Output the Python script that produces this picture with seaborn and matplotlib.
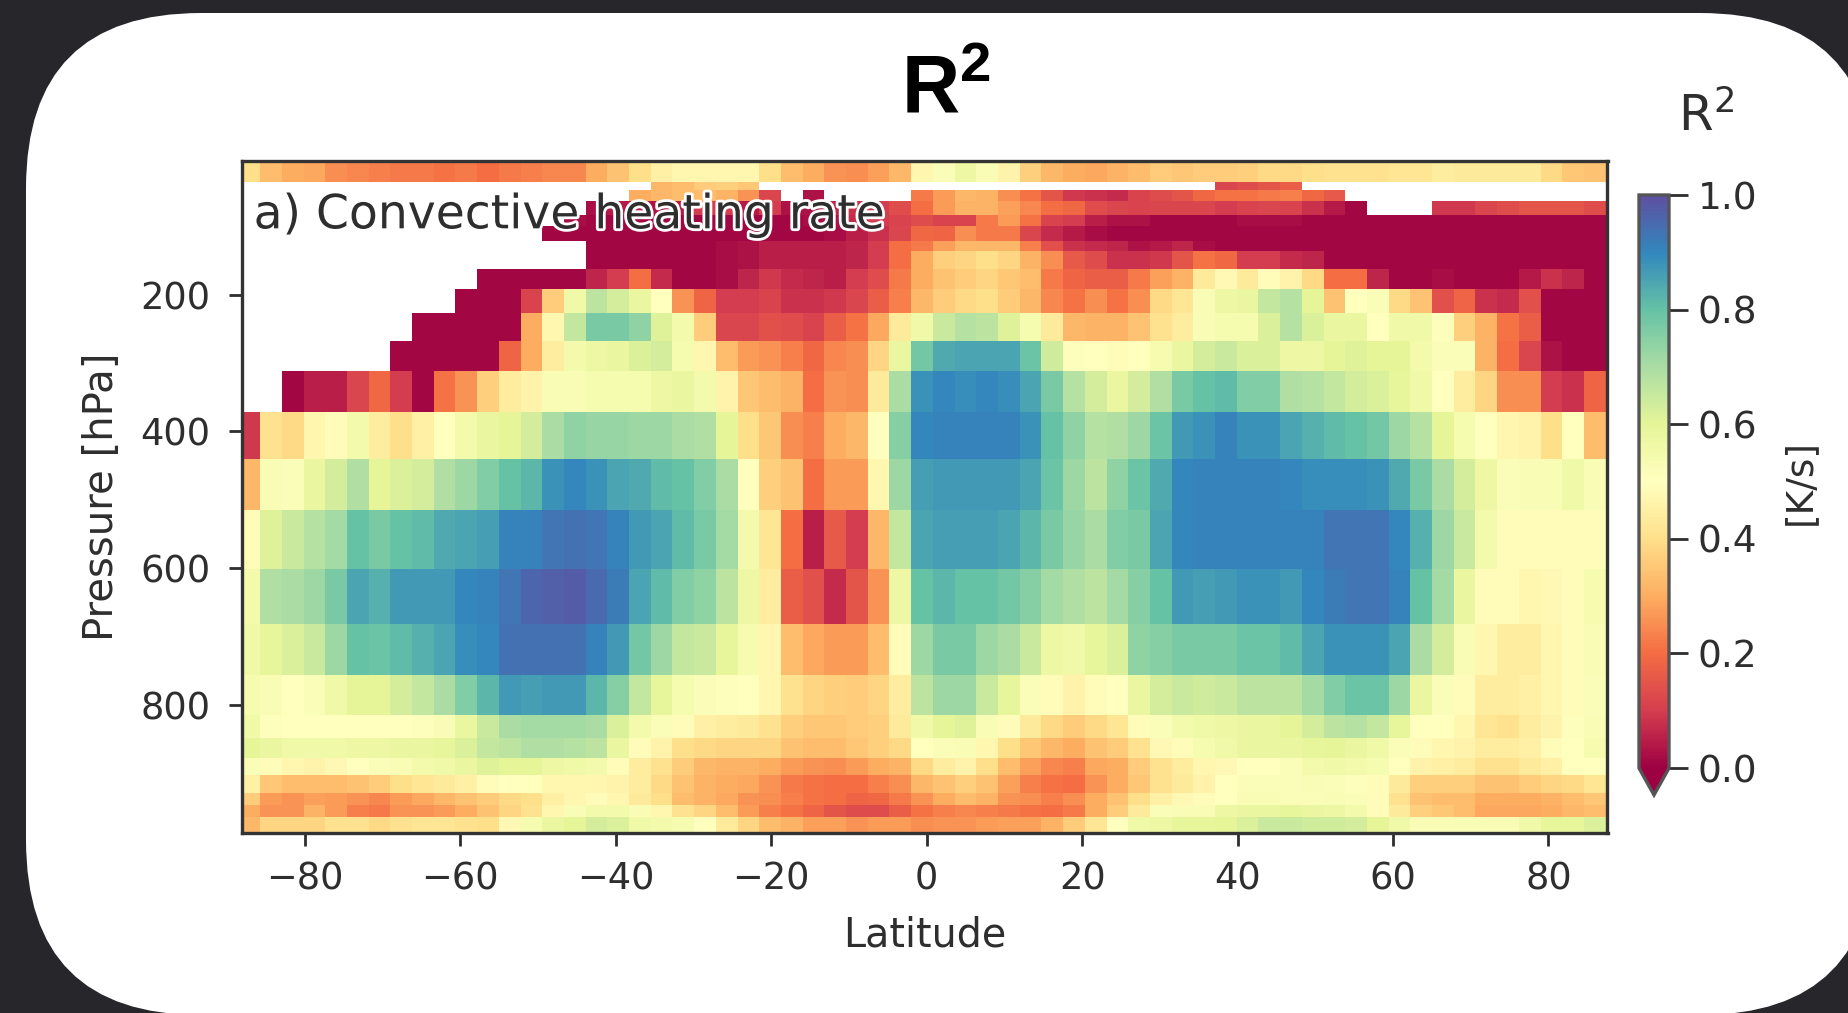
import numpy as np
import pandas as pd
import seaborn as sns
import matplotlib.pyplot as plt
import matplotlib.patheffects as pe
from matplotlib.patches import FancyBboxPatch
from matplotlib.transforms import IdentityTransform

nan = np.nan

# cell edges of the grid
lat_edges = [-88.1, -85.77, -82.98, -80.18, -77.39, -74.60, -71.81, -69.01, -66.22, -63.43, -60.64,
             -57.84, -55.05, -52.26, -49.47, -46.67, -43.88, -41.09, -38.30, -35.50, -32.71, -29.92,
             -27.13, -24.33, -21.54, -18.75, -15.96, -13.16, -10.37, -7.58, -4.79, -1.99, 0.80, 3.59,
             6.38, 9.18, 11.97, 14.76, 17.55, 20.35, 23.14, 25.93, 28.72, 31.52, 34.31, 37.10, 39.89,
             42.69, 45.48, 48.27, 51.06, 53.86, 56.65, 59.44, 62.23, 65.03, 67.82, 70.61, 73.40, 76.20,
             78.99, 81.78, 84.57, 87.6]
pressure_edges = [3.5, 35, 46, 62.5, 83, 99, 121, 136, 162.5, 192, 227, 267, 312, 371, 440, 515, 601,
                  682, 757, 815, 849, 878, 903, 929, 947, 964, 988]

# R2 per pressure row (nan = no data, white)
row_00 = [.40,.33,.30,.29,.25,.24,.23,.22,.22,.21,.22,.20,.22,.23,.24,.24,.30,.34,.40,.45,.47,.47,.47,.47,.40,.33,.30,.26,.25,.28,.32,
          .47,.52,.57,.53,.46,.37,.32,.30,.29,.31,.33,.36,.35,.36,.36,.37,.39,.39,.40,.41,.41,.41,.42,.42,.44,.43,.43,.43,.43,.39,.35,.34]
row_01 = [nan]*19 + [.32,.33,.36,.37,.35] + [nan]*21 + [.12,.13,.15,.17] + [nan]*14
row_02 = [nan]*18 + [.30,.32,.33,.33,.31,.26,.12] + [nan] + [.03] + [nan]*4 + \
         [.22,.27,.32,.31,.25,.21,.15,.09,.08,.07,.11,.13,.15,.19,.21,.21,.22,.23,.19,.16] + [nan]*12
row_03 = [nan]*16 + [.02,.04,.04,.03,.04,.10,.10,.04,.10,.03,.03,.06,.08,.10,.13] + \
         [.20,.27,.31,.31,.28,.24,.20,.19,.13,.12,.11,.12,.12,.12,.10,.11,.12,.11,.08,.04,.01] + [nan]*3 + \
         [.09,.09,.12,.13,.15,.15,.15,.13]
row_04 = [nan]*15 + [.02,.01,.01,.01,.01,.01,.01,.01,.01,.01,.01,.02,.03,.07,.10,.11] + \
         [.13,.11,.11,.22,.27,.21,.11,.10,.05,.03,.03,.01,.01,.01,.01,.02,.02,.02,.01,.01,.01,.01,.01,.01,.01,.01,.01,.01,.01,.01,.01,.01]
row_05 = [nan]*14 + [.01,.01,.01,.01,.01,.01,.01,.01,.01,.01,.01,.01,.01,.02,.05,.08,.12] + \
         [.19,.18,.25,.22,.22,.12,.07,.04,.02,.01,.01,.01,.01,.01,.01,.01,.01,.01,.01,.01,.01,.01,.01,.01,.01,.01,.01,.01,.01,.01,.01,.01]
row_06 = [nan]*16 + [.01,.01,.01,.01,.01,.01,.02,.03,.05,.05,.05,.05,.06,.10,.20] + \
         [.22,.28,.32,.32,.32,.23,.14,.08,.07,.06,.03,.04,.06,.02,.01,.01,.01,.01,.01,.01,.01,.01,.01,.01,.01,.01,.01,.01,.01,.01,.01,.01]
row_07 = [nan]*16 + [.01,.01,.01,.01,.01,.01,.02,.03,.05,.05,.05,.05,.06,.10,.20] + \
         [.30,.37,.38,.40,.38,.31,.25,.16,.13,.08,.08,.09,.15,.21,.19,.10,.10,.07,.06,.01,.01,.01,.01,.01,.01,.01,.01,.01,.01,.01,.01,.01]
row_08 = [nan]*11 + [.01,.01,.01,.01,.01,.06,.10,.20,.07,.01,.01,.02,.06,.09,.07,.06,.05,.10,.13,.22] + \
         [.30,.34,.36,.38,.35,.33,.22,.18,.17,.17,.22,.28,.31,.43,.48,.43,.49,.46,.39,.20,.20,.06,.01,.01,.02,.01,.01,.01,.04,.08,.06,.01]
row_09 = [nan]*10 + [.01,.01,.01,.11,.36,.56,.67,.63,.58,.50,.26,.18,.10,.10,.11,.08,.08,.09,.12,.17,.23] + \
         [.32,.36,.39,.40,.36,.32,.24,.21,.25,.21,.25,.39,.42,.53,.57,.58,.66,.68,.60,.34,.50,.52,.39,.34,.14,.18,.08,.07,.14,.01,.01,.01]
row_10 = [nan]*8 + [.01,.01,.01,.01,.01,.30,.47,.66,.77,.77,.74,.61,.55,.36,.12,.12,.14,.13,.11,.17,.21,.29,.43] + \
         [.56,.65,.68,.67,.61,.54,.43,.32,.31,.31,.34,.41,.44,.53,.54,.54,.62,.68,.62,.58,.58,.50,.56,.56,.51,.37,.31,.21,.17,.01,.01,.01]
row_11 = [nan]*7 + [.01,.01,.01,.01,.01,.18,.30,.44,.55,.57,.58,.62,.63,.54,.47,.33,.27,.26,.23,.19,.24,.25,.38,.58] + \
         [.78,.84,.85,.85,.85,.79,.64,.51,.50,.49,.50,.54,.58,.63,.65,.62,.62,.57,.57,.60,.61,.60,.60,.55,.52,.52,.31,.20,.12,.03,.01,.01]
row_12 = [nan]*2 + [.01,.05,.05,.12,.19,.10,.01,.21,.26,.37,.44,.46,.53,.53,.54,.54,.54,.57,.58,.55,.46,.35,.33,.31,.20,.26,.25,.43,.70] + \
         [.88,.90,.89,.90,.89,.85,.77,.68,.63,.58,.63,.69,.77,.80,.81,.76,.76,.69,.68,.66,.63,.62,.59,.56,.50,.44,.38,.25,.25,.10,.08,.18]
row_13 = [.09,.41,.39,.47,.49,.55,.44,.40,.45,.50,.55,.58,.60,.63,.70,.74,.73,.73,.72,.72,.70,.69,.60,.40,.35,.25,.23,.30,.32,.50,.75,
          .90,.91,.91,.91,.91,.88,.80,.74,.68,.69,.72,.79,.87,.88,.91,.88,.88,.85,.83,.81,.80,.78,.72,.68,.60,.54,.50,.47,.46,.40,.50,.33]
row_14 = [.32,.53,.52,.58,.63,.69,.60,.62,.63,.69,.72,.76,.80,.82,.88,.90,.88,.85,.84,.81,.80,.76,.70,.50,.37,.34,.20,.27,.27,.47,.72,
          .86,.87,.87,.87,.87,.85,.79,.72,.67,.74,.79,.84,.90,.91,.91,.91,.91,.90,.89,.89,.89,.88,.84,.77,.70,.63,.57,.52,.53,.53,.56,.53]
row_15 = [.49,.61,.65,.68,.71,.80,.77,.80,.81,.84,.85,.86,.91,.91,.93,.94,.93,.91,.87,.85,.81,.77,.71,.55,.42,.20,.05,.16,.10,.32,.66,
          .85,.86,.86,.86,.85,.82,.77,.73,.70,.76,.77,.85,.90,.91,.91,.91,.91,.91,.91,.93,.93,.93,.90,.83,.72,.65,.55,.49,.49,.49,.49,.49]
row_16 = [.55,.69,.70,.72,.77,.85,.83,.87,.87,.87,.90,.91,.93,.96,.97,.975,.95,.92,.85,.81,.76,.74,.67,.57,.44,.17,.14,.07,.15,.26,.57,
          .80,.82,.80,.80,.78,.75,.71,.69,.67,.71,.75,.80,.87,.86,.87,.88,.88,.87,.90,.92,.93,.93,.91,.80,.71,.58,.49,.49,.47,.48,.49,.54]
row_17 = [.56,.59,.62,.65,.72,.80,.79,.81,.83,.85,.89,.90,.94,.94,.94,.94,.91,.87,.78,.72,.66,.65,.59,.54,.47,.33,.29,.27,.27,.33,.49,
          .72,.77,.77,.72,.70,.65,.57,.56,.59,.62,.74,.75,.77,.77,.77,.79,.79,.81,.85,.88,.88,.88,.85,.70,.63,.53,.47,.44,.44,.47,.49,.53]
row_18 = [.54,.53,.50,.52,.56,.60,.60,.63,.66,.70,.76,.82,.87,.86,.87,.87,.82,.75,.66,.59,.54,.52,.51,.50,.47,.41,.38,.37,.36,.38,.44,
          .67,.72,.72,.65,.59,.52,.49,.46,.49,.50,.58,.63,.65,.64,.65,.67,.67,.67,.71,.76,.79,.79,.72,.58,.52,.49,.44,.44,.45,.47,.49,.52]
row_19 = [.56,.51,.50,.50,.50,.50,.50,.50,.51,.53,.58,.65,.70,.71,.71,.71,.70,.62,.55,.52,.49,.45,.44,.43,.41,.37,.35,.35,.36,.37,.43,
          .56,.60,.61,.53,.49,.43,.39,.36,.39,.42,.49,.52,.55,.56,.57,.58,.58,.60,.63,.67,.68,.66,.59,.50,.50,.47,.42,.41,.44,.46,.51,.53]
row_20 = [.60,.58,.56,.56,.56,.57,.57,.58,.58,.59,.62,.66,.67,.69,.69,.68,.67,.58,.49,.46,.40,.39,.38,.38,.38,.34,.33,.33,.35,.37,.39,
          .50,.52,.53,.47,.40,.35,.32,.30,.34,.36,.41,.48,.49,.54,.56,.58,.58,.58,.59,.60,.58,.56,.52,.49,.47,.46,.44,.44,.45,.49,.50,.54]
row_21 = [.52,.49,.47,.46,.48,.50,.52,.53,.55,.56,.58,.61,.60,.60,.57,.56,.55,.49,.44,.41,.36,.32,.31,.31,.30,.27,.26,.25,.27,.30,.31,
          .39,.44,.46,.40,.33,.28,.24,.23,.29,.30,.36,.41,.44,.47,.48,.50,.50,.52,.55,.56,.55,.54,.50,.46,.45,.44,.41,.41,.43,.45,.50,.50]
row_22 = [.45,.35,.33,.33,.33,.34,.36,.40,.42,.43,.45,.49,.50,.50,.47,.47,.47,.46,.44,.39,.34,.31,.30,.29,.26,.22,.21,.20,.20,.23,.25,
          .32,.34,.37,.34,.28,.23,.21,.20,.26,.30,.35,.41,.43,.46,.50,.52,.52,.52,.53,.52,.51,.49,.43,.37,.37,.37,.34,.34,.36,.38,.39,.42]
row_23 = [.36,.27,.26,.28,.27,.26,.24,.27,.29,.32,.34,.36,.39,.40,.45,.47,.49,.47,.43,.40,.33,.31,.29,.26,.25,.23,.21,.20,.18,.19,.22,
          .26,.30,.33,.31,.26,.25,.23,.25,.30,.34,.40,.45,.48,.49,.50,.53,.53,.52,.52,.53,.52,.49,.41,.34,.33,.33,.30,.30,.30,.31,.33,.35]
row_24 = [.30,.26,.26,.31,.27,.23,.22,.26,.26,.27,.30,.34,.38,.41,.47,.53,.55,.55,.53,.47,.41,.38,.33,.27,.23,.21,.18,.15,.13,.13,.17,
          .21,.23,.24,.23,.22,.21,.20,.22,.30,.36,.43,.52,.53,.53,.57,.58,.58,.59,.58,.57,.55,.49,.43,.37,.35,.33,.29,.29,.29,.30,.32,.33]
row_25 = [.32,.38,.38,.38,.41,.41,.39,.41,.42,.42,.41,.40,.48,.54,.58,.60,.63,.62,.56,.55,.54,.50,.43,.38,.33,.31,.28,.28,.26,.27,.27,
          .25,.26,.26,.27,.28,.28,.31,.36,.42,.50,.56,.57,.59,.59,.60,.62,.65,.65,.64,.64,.63,.60,.56,.53,.53,.53,.53,.53,.56,.59,.59,.62]

r2 = np.array([row_00, row_01, row_02, row_03, row_04, row_05, row_06, row_07, row_08, row_09,
               row_10, row_11, row_12, row_13, row_14, row_15, row_16, row_17, row_18, row_19,
               row_20, row_21, row_22, row_23, row_24, row_25])

lat_mid = (np.array(lat_edges[:-1]) + np.array(lat_edges[1:])) / 2
p_mid = (np.array(pressure_edges[:-1]) + np.array(pressure_edges[1:])) / 2
lat_grid, p_grid = np.meshgrid(lat_mid, p_mid)
df = pd.DataFrame({'lat': lat_grid.ravel(), 'pressure': p_grid.ravel(), 'r2': r2.ravel()}).dropna()

sns.set_style('ticks')
plt.rcParams['font.family'] = ['DejaVu Sans']
plt.rcParams['mathtext.fontset'] = 'custom'
plt.rcParams['mathtext.rm'] = 'DejaVu Sans'
plt.rcParams['mathtext.bf'] = 'Liberation Sans:bold'
text_color = '#2e2e2e'

W, H = 1849, 1013
fig = plt.figure(figsize=(W / 100, H / 100), dpi=100, facecolor='#26262b')

# white rounded card behind the axes
fig.add_artist(FancyBboxPatch((26, -2), 1849, 1002, boxstyle='round,pad=0,rounding_size=175',
                              transform=IdentityTransform(), facecolor='white', edgecolor='none', zorder=-1))

ax = fig.add_axes([242 / W, 1 - 833 / H, (1607.5 - 242) / W, (833 - 160.7) / H])
cax = fig.add_axes([1639 / W, 1 - 795 / H, 30 / W, (795 - 195) / H])

sns.histplot(data=df, x='lat', y='pressure', weights='r2', bins=[lat_edges, pressure_edges],
             cmap='Spectral', vmin=0, vmax=1, cbar=True, cbar_ax=cax,
             cbar_kws={'extend': 'min', 'extendfrac': 0.047}, ax=ax)

ax.set_xlim(-88.1, 87.6)
ax.set_ylim(988, 3.5)
ax.set_xticks([-80, -60, -40, -20, 0, 20, 40, 60, 80])
ax.set_yticks([200, 400, 600, 800])
ax.tick_params(labelsize=26.5, length=9.5, width=2, color=text_color, labelcolor=text_color)
ax.tick_params(axis='x', pad=10)
ax.tick_params(axis='y', pad=13)
ax.set_xlabel('Latitude', fontsize=28.5, color=text_color, labelpad=13)
ax.set_ylabel('Pressure [hPa]', fontsize=29, color=text_color, labelpad=13)
for spine in ax.spines.values():
    spine.set_visible(True)
    spine.set_linewidth(2.4)
    spine.set_color('#333333')

ax.text(0.0085, 0.918, 'a) Convective heating rate', transform=ax.transAxes, fontsize=34, va='center',
        color=text_color, path_effects=[pe.withStroke(linewidth=4, foreground='white')])

cax.tick_params(labelsize=27, length=13.5, width=2, color=text_color, labelcolor=text_color, pad=7)
cax.set_yticks([0, 0.2, 0.4, 0.6, 0.8, 1.0])
cax.set_ylabel('[K/s]', fontsize=27, color=text_color, labelpad=18)
for spine in cax.spines.values():
    spine.set_linewidth(2.4)
    spine.set_color('#555555')

fig.text(1706 / W, 1 - 116 / H, 'R$^2$', fontsize=36, color=text_color, ha='center', va='center')
fig.text(946 / W, 1 - 90 / H, r'$\mathbf{R^2}$', fontsize=58, color='black', ha='center', va='center')

fig.savefig('out.png', dpi=100, facecolor=fig.get_facecolor())
